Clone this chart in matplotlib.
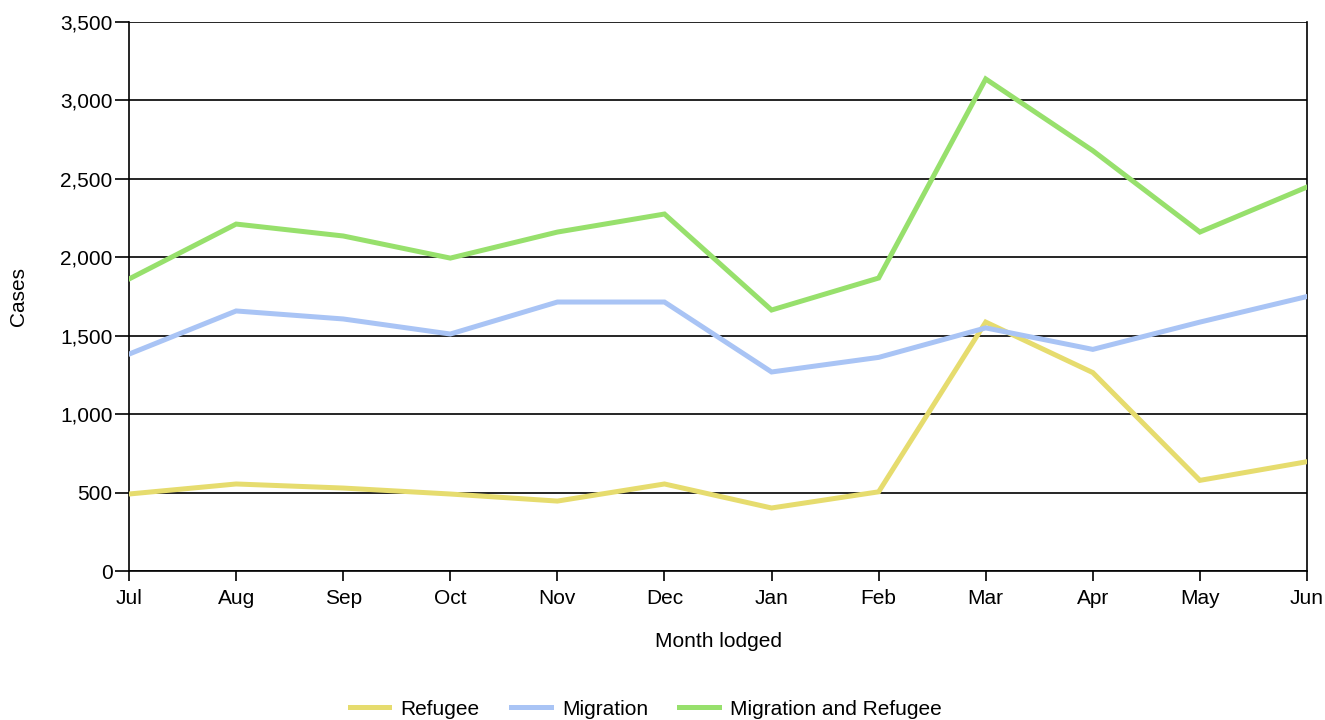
import numpy as np
import matplotlib
matplotlib.use('Agg')
import matplotlib.pyplot as plt
from matplotlib.ticker import FuncFormatter

plt.rcParams['font.family'] = ['Liberation Sans', 'DejaVu Sans']

months = ['Jul', 'Aug', 'Sep', 'Oct', 'Nov', 'Dec', 'Jan', 'Feb', 'Mar', 'Apr', 'May', 'Jun']
refugee = [491, 555, 529, 491, 446, 555, 402, 505, 1587, 1265, 578, 697]
migration = [1383, 1658, 1607, 1511, 1715, 1715, 1269, 1362, 1550, 1413, 1587, 1750]
combined = [1862, 2212, 2136, 1995, 2161, 2276, 1664, 1868, 3137, 2680, 2161, 2448]

series = [('Refugee', refugee, '#e6dc6e'),
          ('Migration', migration, '#a9c4f5'),
          ('Migration and Refugee', combined, '#97e06c')]

fs = 15

fig = plt.figure(figsize=(13.25, 7.2), dpi=100)
ax = fig.add_axes([0.0974, 0.2069, 0.889, 0.7625])

x = np.arange(len(months))
for name, vals, col in series:
    ax.plot(x, vals, color=col, lw=3.6, label=name, solid_joinstyle='miter', zorder=3)

ax.set_xlim(0, len(months) - 1)
ax.set_ylim(0, 3500)
ax.set_yticks(np.arange(0, 3501, 500))
ax.yaxis.set_major_formatter(FuncFormatter(lambda v, p: '{:,.0f}'.format(v)))
ax.set_xticks(x)
ax.set_xticklabels(months)
ax.grid(axis='y', color='black', lw=1.2, zorder=1)
ax.tick_params(axis='y', length=10, width=1.2, labelsize=fs, pad=2)
ax.tick_params(axis='x', length=7, width=1.2, labelsize=fs, pad=6)
for s in ['left', 'right', 'bottom']:
    ax.spines[s].set_linewidth(1.2)
ax.spines['top'].set_visible(False)

ax.set_xlabel('Month lodged', fontsize=fs, labelpad=17)
ax.set_ylabel('Cases', fontsize=fs, labelpad=23)

fig.legend(loc='lower center', bbox_to_anchor=(0.4875, -0.024), ncol=3, frameon=False,
           fontsize=fs, handlelength=1.9, columnspacing=1.5, handletextpad=0.55)

fig.savefig('out.png', dpi=100)
